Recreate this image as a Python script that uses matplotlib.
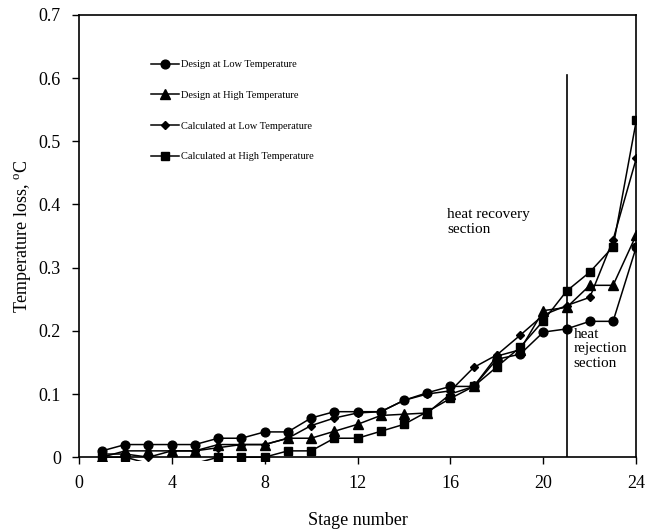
import matplotlib
matplotlib.use("Agg")
import matplotlib.pyplot as plt
from matplotlib.lines import Line2D
from matplotlib.patches import Rectangle

plt.rcParams["font.family"] = ["Liberation Serif", "DejaVu Serif"]
plt.rcParams["mathtext.fontset"] = "custom"
plt.rcParams["mathtext.rm"] = "Liberation Serif"

stages = list(range(1, 25))

design_low = [0.010, 0.020, 0.020, 0.020, 0.020, 0.030, 0.030, 0.040, 0.040, 0.062,
              0.072, 0.072, 0.072, 0.090, 0.102, 0.112, 0.112, 0.155, 0.163, 0.198,
              0.203, 0.215, 0.215, 0.333]
design_high = [0.000, 0.010, 0.010, 0.010, 0.010, 0.020, 0.020, 0.020, 0.030, 0.030,
               0.041, 0.052, 0.066, 0.068, 0.070, 0.100, 0.112, 0.160, 0.170, 0.232,
               0.237, 0.272, 0.272, 0.352]
calc_low = [0.005, 0.005, 0.000, 0.010, 0.010, 0.015, 0.020, 0.020, 0.030, 0.050,
            0.062, 0.070, 0.072, 0.090, 0.100, 0.105, 0.142, 0.162, 0.193, 0.225,
            0.240, 0.253, 0.344, 0.473]
calc_high = [0.000, 0.000, -0.010, -0.010, -0.010, 0.000, 0.000, 0.000, 0.010, 0.010,
             0.030, 0.030, 0.041, 0.052, 0.072, 0.093, 0.112, 0.143, 0.174, 0.216,
             0.263, 0.293, 0.333, 0.533]

labels = ["Design at Low Temperature", "Design at High Temperature",
          "Calculated at Low Temperature", "Calculated at High Temperature"]
markers = [("o", 6.3), ("^", 6.5), ("D", 4.3), ("s", 6)]
series = [design_low, design_high, calc_low, calc_high]

boundary_stage = 21

fig = plt.figure(figsize=(6.46, 5.31), dpi=100)
ax = fig.add_axes([0.122, 0.139, 0.863, 0.833])

# let lines dip a few pixels under the x axis, like the spreadsheet plot area
clip = Rectangle((0, -0.008), 1, 1.008, transform=ax.transAxes, visible=False)
ax.add_patch(clip)

handles = []
for vals, (m, ms), lab in zip(series, markers, labels):
    keep = [i for i, v in enumerate(vals) if v >= 0]
    ln, = ax.plot(stages, vals, color="black", lw=1.1, marker=m, ms=ms,
                  markevery=keep, zorder=3)
    ln.set_clip_path(clip)
    handles.append(Line2D([], [], color="black", lw=1.1, marker=m, ms=ms, label=lab))

ax.plot([boundary_stage, boundary_stage], [0, 0.605], color="black", lw=1.2, zorder=2)

ax.text(15.85, 0.372, "heat recovery\nsection", fontsize=11, ha="left", va="center",
        linespacing=1.25)
ax.text(21.3, 0.172, "heat\nrejection\nsection", fontsize=11, ha="left", va="center",
        linespacing=1.15)

ax.set_xlim(0, 24)
ax.set_ylim(0, 0.7)
ax.set_xticks(range(0, 25, 4))
ax.set_yticks([0, 0.1, 0.2, 0.3, 0.4, 0.5, 0.6, 0.7])
ax.set_yticklabels(["0", "0.1", "0.2", "0.3", "0.4", "0.5", "0.6", "0.7"])
ax.tick_params(direction="out", length=5, width=1, labelsize=13, pad=8)
for sp in ax.spines.values():
    sp.set_linewidth(1.2)

ax.set_xlabel("Stage number", fontsize=13, labelpad=14)
ax.set_ylabel(r"Temperature loss, $^{\mathrm{o}}$C", fontsize=13, labelpad=3)

ax.legend(handles=handles, loc="upper left", bbox_to_anchor=(0.13, 0.898),
          frameon=False, fontsize=7.5, borderpad=0, borderaxespad=0,
          handlelength=2.7, handletextpad=0.2, labelspacing=2.05, numpoints=1)

fig.savefig("out.png", dpi=100)
